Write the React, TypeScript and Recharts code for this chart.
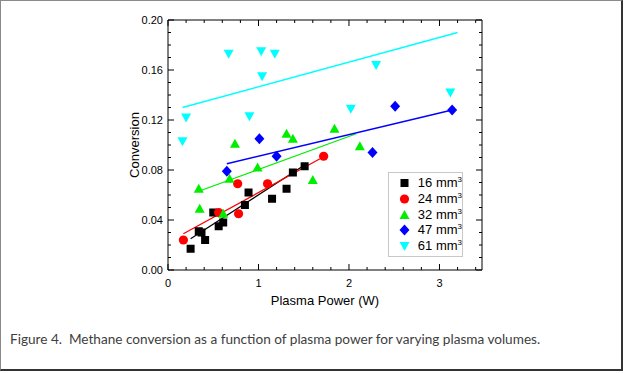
import React from 'react'
import { ScatterChart, Scatter, XAxis, YAxis } from 'recharts'

// series: [power (W), conversion]
const vol16 = [
  { x: 0.25, y: 0.017 },
  { x: 0.34, y: 0.031 },
  { x: 0.37, y: 0.030 },
  { x: 0.41, y: 0.024 },
  { x: 0.50, y: 0.046 },
  { x: 0.56, y: 0.035 },
  { x: 0.61, y: 0.038 },
  { x: 0.85, y: 0.052 },
  { x: 0.89, y: 0.062 },
  { x: 1.15, y: 0.057 },
  { x: 1.31, y: 0.065 },
  { x: 1.38, y: 0.078 },
  { x: 1.51, y: 0.083 },
]
const vol24 = [
  { x: 0.17, y: 0.024 },
  { x: 0.56, y: 0.046 },
  { x: 0.77, y: 0.069 },
  { x: 0.78, y: 0.045 },
  { x: 1.10, y: 0.069 },
  { x: 1.72, y: 0.091 },
]
const vol32 = [
  { x: 0.34, y: 0.065 },
  { x: 0.35, y: 0.049 },
  { x: 0.61, y: 0.045 },
  { x: 0.68, y: 0.073 },
  { x: 0.74, y: 0.101 },
  { x: 0.99, y: 0.082 },
  { x: 1.31, y: 0.109 },
  { x: 1.38, y: 0.105 },
  { x: 1.60, y: 0.072 },
  { x: 1.84, y: 0.113 },
  { x: 2.12, y: 0.099 },
]
const vol47 = [
  { x: 0.65, y: 0.079 },
  { x: 1.01, y: 0.105 },
  { x: 1.20, y: 0.091 },
  { x: 2.26, y: 0.094 },
  { x: 2.51, y: 0.131 },
  { x: 3.14, y: 0.128 },
]
const vol61 = [
  { x: 0.16, y: 0.103 },
  { x: 0.20, y: 0.122 },
  { x: 0.67, y: 0.173 },
  { x: 0.90, y: 0.123 },
  { x: 1.03, y: 0.175 },
  { x: 1.04, y: 0.155 },
  { x: 1.18, y: 0.173 },
  { x: 2.02, y: 0.129 },
  { x: 2.30, y: 0.164 },
  { x: 3.12, y: 0.142 },
]

// linear fit end points, as drawn
const fit16 = [{ x: 0.25, y: 0.025 }, { x: 1.51, y: 0.084 }]
const fit24 = [{ x: 0.17, y: 0.029 }, { x: 1.68, y: 0.089 }]
const fit32 = [{ x: 0.34, y: 0.063 }, { x: 2.08, y: 0.109 }]
const fit47 = [{ x: 0.65, y: 0.085 }, { x: 3.14, y: 0.128 }]
const fit61 = [{ x: 0.16, y: 0.130 }, { x: 3.20, y: 0.190 }]

const xTicks = [0, 0.2, 0.4, 0.6, 0.8, 1, 1.2, 1.4, 1.6, 1.8, 2, 2.2, 2.4, 2.6, 2.8, 3, 3.2, 3.4]
const yTicks = [
  0, 0.01, 0.02, 0.03, 0.04, 0.05, 0.06, 0.07, 0.08, 0.09, 0.1,
  0.11, 0.12, 0.13, 0.14, 0.15, 0.16, 0.17, 0.18, 0.19, 0.2,
]

const AXIS_FONT = '"Liberation Sans", Arial, sans-serif'

const isMajorX = (v: number) => Math.abs(v - Math.round(v)) < 1e-6
const isMajorY = (v: number) => Math.abs(v / 0.04 - Math.round(v / 0.04)) < 1e-6

const AxisTick = (props: any) => {
  const { x, y, payload, side } = props
  const v = payload.value
  const major = side === 'bottom' || side === 'top' ? isMajorX(v) : isMajorY(v)
  const len = major ? 6 : 3
  if (side === 'bottom') {
    return (
      <g>
        <line x1={x} y1={y} x2={x} y2={y - len} stroke="#000" />
        {major && (
          <text x={x} y={y + 17} textAnchor="middle" fontSize={11} fontFamily={AXIS_FONT} fill="#000">
            {String(v)}
          </text>
        )}
      </g>
    )
  }
  if (side === 'top') {
    return <line x1={x} y1={y} x2={x} y2={y + len} stroke="#000" />
  }
  if (side === 'left') {
    return (
      <g>
        <line x1={x} y1={y} x2={x + len} y2={y} stroke="#000" />
        {major && (
          <text x={x - 5} y={y + 4} textAnchor="end" fontSize={11} fontFamily={AXIS_FONT} fill="#000">
            {v.toFixed(2)}
          </text>
        )}
      </g>
    )
  }
  return <line x1={x} y1={y} x2={x - len} y2={y} stroke="#000" />
}

// marker shapes
const Square = ({ cx, cy, fill }: any) => <rect x={cx - 4} y={cy - 4} width={8} height={8} fill={fill} />
const Circle = ({ cx, cy, fill }: any) => <circle cx={cx} cy={cy} r={4.6} fill={fill} />
const TriUp = ({ cx, cy, fill }: any) => (
  <polygon points={`${cx},${cy - 5} ${cx + 5},${cy + 4} ${cx - 5},${cy + 4}`} fill={fill} />
)
const Diamond = ({ cx, cy, fill }: any) => (
  <polygon points={`${cx},${cy - 5.5} ${cx + 5},${cy} ${cx},${cy + 5.5} ${cx - 5},${cy}`} fill={fill} />
)
const TriDown = ({ cx, cy, fill }: any) => (
  <polygon points={`${cx - 5},${cy - 4} ${cx + 5},${cy - 4} ${cx},${cy + 5}`} fill={fill} />
)
const NoShape = () => <g />

const series = [
  { name: '16', data: vol16, fit: fit16, color: '#000000', Shape: Square },
  { name: '24', data: vol24, fit: fit24, color: '#ff0000', Shape: Circle },
  { name: '32', data: vol32, fit: fit32, color: '#00ee00', Shape: TriUp },
  { name: '47', data: vol47, fit: fit47, color: '#0000ff', Shape: Diamond },
  { name: '61', data: vol61, fit: fit61, color: '#00ffff', Shape: TriDown },
]

export default function App() {
  return (
    <div style={{ position: 'absolute', left: 0, top: 0, width: 625, height: 373, background: '#fff' }}>
      {/* figure frame */}
      <div
        style={{
          position: 'absolute',
          left: 0,
          top: 0,
          width: 620,
          height: 368,
          borderLeft: '1px solid #8a8a8a',
          borderTop: '1px solid #8a8a8a',
          borderRight: '2px solid #333',
          borderBottom: '2px solid #333',
        }}
      />
      <div style={{ position: 'absolute', left: 0, top: 0 }}>
        <ScatterChart width={625} height={373} margin={{ top: 19, left: 167, right: 142, bottom: 102 }}>
          <XAxis
            xAxisId={0}
            type="number"
            dataKey="x"
            domain={[0, 3.47]}
            allowDataOverflow
            ticks={xTicks}
            interval={0}
            height={1}
            tickSize={0}
            tickMargin={0}
            tickLine={false}
            axisLine={{ stroke: '#000' }}
            tick={(p: any) => <AxisTick {...p} side="bottom" />}
            label={{ value: 'Plasma Power (W)', position: 'bottom', offset: 25, fontSize: 13, fontFamily: AXIS_FONT, fill: '#000' }}
          />
          <XAxis
            xAxisId="top"
            orientation="top"
            type="number"
            dataKey="x"
            domain={[0, 3.47]}
            allowDataOverflow
            ticks={xTicks}
            interval={0}
            height={1}
            tickSize={0}
            tickMargin={0}
            tickLine={false}
            axisLine={{ stroke: '#000' }}
            tick={(p: any) => <AxisTick {...p} side="top" />}
          />
          <YAxis
            yAxisId={0}
            type="number"
            dataKey="y"
            domain={[0, 0.2]}
            allowDataOverflow
            ticks={yTicks}
            interval={0}
            width={1}
            tickSize={0}
            tickMargin={0}
            tickLine={false}
            axisLine={{ stroke: '#000' }}
            tick={(p: any) => <AxisTick {...p} side="left" />}
            label={{
              value: 'Conversion',
              angle: -90,
              position: 'left',
              offset: 33,
              fontSize: 13,
              fontFamily: AXIS_FONT,
              fill: '#000',
              style: { textAnchor: 'middle' },
            }}
          />
          <YAxis
            yAxisId="right"
            orientation="right"
            type="number"
            dataKey="y"
            domain={[0, 0.2]}
            allowDataOverflow
            ticks={yTicks}
            interval={0}
            width={1}
            tickSize={0}
            tickMargin={0}
            tickLine={false}
            axisLine={{ stroke: '#000' }}
            tick={(p: any) => <AxisTick {...p} side="right" />}
          />
          {series.map((s) => (
            <Scatter
              key={'fit' + s.name}
              data={s.fit}
              fill={s.color}
              line={{ stroke: s.color, strokeWidth: 1.3 }}
              shape={NoShape}
              isAnimationActive={false}
            />
          ))}
          {series.map((s) => (
            <Scatter
              key={'pts' + s.name}
              data={s.data}
              fill={s.color}
              shape={(p: any) => <s.Shape {...p} fill={s.color} />}
              isAnimationActive={false}
            />
          ))}
        </ScatterChart>
      </div>

      {/* legend box */}
      <div
        style={{
          position: 'absolute',
          left: 388,
          top: 172,
          width: 73,
          height: 83,
          border: '1px solid #c8c8c8',
          background: '#fff',
          fontFamily: AXIS_FONT,
          fontSize: 13,
          color: '#000',
        }}
      >
        {series.map((s, i) => (
          <div
            key={s.name}
            style={{ position: 'absolute', left: 0, top: 2 + i * 15.75, height: 16, width: 73, display: 'flex', alignItems: 'center' }}
          >
            <svg width={32} height={16} style={{ display: 'block' }}>
              <s.Shape cx={15.5} cy={8} fill={s.color} />
            </svg>
            <span style={{ lineHeight: '16px', whiteSpace: 'nowrap' }}>
              {s.name} mm<sup style={{ fontSize: 8, verticalAlign: 'top', lineHeight: '10px' }}>3</sup>
            </span>
          </div>
        ))}
      </div>

      <div
        style={{
          position: 'absolute',
          left: 10,
          top: 331,
          fontFamily: 'Lato, "Open Sans", sans-serif',
          fontSize: 13.6,
          color: '#404040',
          whiteSpace: 'pre',
        }}
      >
        {'Figure 4.  Methane conversion as a function of plasma power for varying plasma volumes.'}
      </div>
    </div>
  )
}
